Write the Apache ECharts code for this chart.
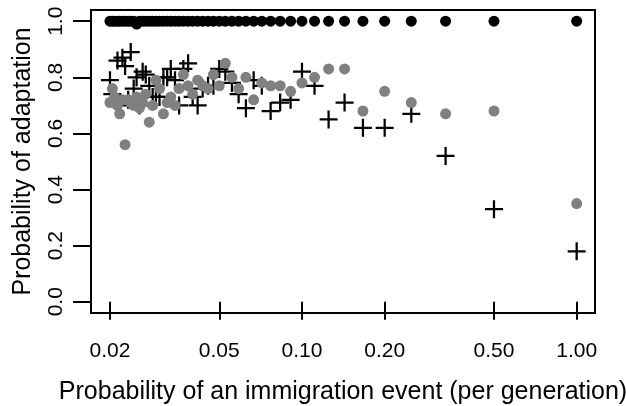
<!DOCTYPE html>
<html>
<head>
<meta charset="utf-8">
<script src="https://cdn.jsdelivr.net/npm/echarts@6/dist/echarts.min.js"></script>
<style>
  html, body { margin: 0; padding: 0; background: #fff; }
  #app { width: 626px; height: 406px; }
</style>
</head>
<body>
<div id="app"></div>
<script>
// immigration probability (x), one value per run
var immig = [1, 0.5, 0.3333, 0.25, 0.2, 0.1667, 0.1429, 0.125, 0.1111, 0.1,
  0.0909, 0.0833, 0.0769, 0.0714, 0.0667, 0.0625, 0.0588, 0.0556, 0.0526, 0.05,
  0.0476, 0.0455, 0.0435, 0.0417, 0.04, 0.0385, 0.037, 0.0357, 0.0345, 0.0333,
  0.0323, 0.0313, 0.0303, 0.0294, 0.0286, 0.0278, 0.027, 0.0263, 0.0256, 0.025,
  0.0244, 0.0238, 0.0233, 0.0227, 0.0222, 0.0217, 0.0213, 0.0208, 0.0204, 0.02];

// black dots
var adaptBlack = [1, 1, 1, 1, 1, 1, 1, 1, 1, 1,
  1, 1, 1, 1, 1, 1, 1, 1, 1, 1,
  1, 1, 1, 1, 1, 1, 1, 1, 1, 1,
  1, 1, 1, 1, 1, 1, 1, 1, 1, 0.99,
  1, 1, 1, 1, 1, 1, 1, 1, 1, 1];

// grey dots
var adaptGrey = [0.35, 0.68, 0.67, 0.71, 0.75, 0.68, 0.83, 0.83, 0.80, 0.78,
  0.75, 0.77, 0.77, 0.78, 0.72, 0.80, 0.76, 0.80, 0.85, 0.77,
  0.81, 0.76, 0.77, 0.79, 0.74, 0.77, 0.81, 0.76, 0.70, 0.73,
  0.71, 0.67, 0.76, 0.79, 0.70, 0.64, 0.74, 0.71, 0.69, 0.73,
  0.70, 0.71, 0.72, 0.56, 0.72, 0.67, 0.70, 0.73, 0.76, 0.71];

// crosses
var adaptCross = [0.18, 0.33, 0.52, 0.67, 0.62, 0.62, 0.71, 0.65, 0.77, 0.82,
  0.72, 0.71, 0.68, 0.77, 0.79, 0.69, 0.74, 0.78, 0.82, 0.83,
  0.77, 0.77, 0.76, 0.70, 0.73, 0.85, 0.83, 0.70, 0.79, 0.83,
  0.80, 0.80, 0.73, 0.73, 0.73, 0.77, 0.81, 0.82, 0.70, 0.80,
  0.76, 0.89, 0.72, 0.84, 0.87, 0.70, 0.86, 0.72, 0.74, 0.79];

var xTicks = [0.02, 0.05, 0.1, 0.2, 0.5, 1];
var yTicks = [0, 0.2, 0.4, 0.6, 0.8, 1];

var pairs = function (ys) {
  return ys.map(function (y, i) { return [immig[i], y]; });
};

var crossPath = 'path://M-1,-8 L1,-8 L1,-1 L8,-1 L8,1 L1,1 L1,8 L-1,8 L-1,1 L-8,1 L-8,-1 L-1,-1 Z';
var font = 'Liberation Sans';

var myChart = echarts.init(document.getElementById('app'));
var option = {
  animation: false,
  grid: {
    left: 91, right: 31, top: 10, bottom: 93,
    show: true, borderColor: '#000', borderWidth: 2,
    outerBoundsMode: 'none'
  },
  xAxis: {
    type: 'log',
    logBase: 10,
    min: 0.01706,
    max: 1.166,
    name: 'Probability of an immigration event (per generation)',
    nameLocation: 'middle',
    nameGap: 67,
    nameTextStyle: { fontFamily: font, fontSize: 25, color: '#000' },
    axisLine: { show: false },
    axisTick: { show: true, length: 18, lineStyle: { color: '#000', width: 2 }, customValues: xTicks },
    axisLabel: {
      customValues: xTicks, margin: 28, fontFamily: font, fontSize: 21, color: '#000',
      formatter: function (v) { return v.toFixed(2); }
    },
    splitLine: { show: false },
    minorTick: { show: false }
  },
  yAxis: {
    type: 'value',
    min: -0.04,
    max: 1.04,
    name: 'Probability of adaptation',
    nameLocation: 'middle',
    nameGap: 55,
    nameTextStyle: { fontFamily: font, fontSize: 25, color: '#000' },
    axisLine: { show: false },
    axisTick: { show: true, length: 18, lineStyle: { color: '#000', width: 2 }, customValues: yTicks },
    axisLabel: {
      customValues: yTicks, margin: 24, rotate: 90, fontFamily: font, fontSize: 21, color: '#000',
      formatter: function (v) { return v.toFixed(1); }
    },
    splitLine: { show: false }
  },
  series: [
    {
      name: 'black', type: 'scatter', data: pairs(adaptBlack),
      symbol: 'circle', symbolSize: 11,
      itemStyle: { color: '#000', opacity: 1 }
    },
    {
      name: 'cross', type: 'scatter', data: pairs(adaptCross),
      symbol: crossPath, symbolSize: 18,
      itemStyle: { color: '#000', opacity: 1 }
    },
    {
      name: 'grey', type: 'scatter', data: pairs(adaptGrey),
      symbol: 'circle', symbolSize: 11,
      itemStyle: { color: '#808080', opacity: 1 }
    }
  ]
};
myChart.setOption(option);
</script>
</body>
</html>
